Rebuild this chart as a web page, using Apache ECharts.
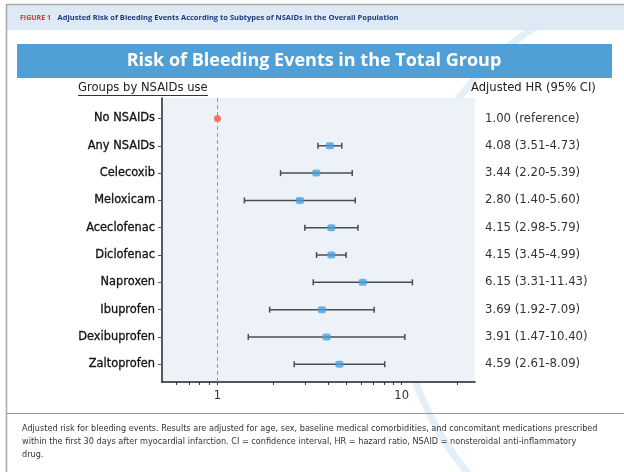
<!DOCTYPE html>
<html><head><meta charset="utf-8">
<script src="https://cdn.jsdelivr.net/npm/echarts@6/dist/echarts.min.js"></script>
<style>html,body{margin:0;padding:0;background:#fff}#c{width:624px;height:472px}</style>
</head><body><div id="c"></div><script>
const groups = ['No NSAIDs','Any NSAIDs','Celecoxib','Meloxicam','Aceclofenac','Diclofenac','Naproxen','Ibuprofen','Dexibuprofen','Zaltoprofen'];
const hr = [1.00, 4.08, 3.44, 2.80, 4.15, 4.15, 6.15, 3.69, 3.91, 4.59];
const ciLow = [null, 3.51, 2.20, 1.40, 2.98, 3.45, 3.31, 1.92, 1.47, 2.61];
const ciHigh = [null, 4.73, 5.39, 5.60, 5.79, 4.99, 11.43, 7.09, 10.40, 8.09];
const hrText = ['1.00 (reference)','4.08 (3.51-4.73)','3.44 (2.20-5.39)','2.80 (1.40-5.60)','4.15 (2.98-5.79)','4.15 (3.45-4.99)','6.15 (3.31-11.43)','3.69 (1.92-7.09)','3.91 (1.47-10.40)','4.59 (2.61-8.09)'];
const xLabelValues = [1, 10];
const xTickValues = [0.6, 0.7, 0.8, 0.9, 1, 2, 3, 4, 5, 6, 7, 8, 9, 10, 20];
const refValue = 1;

const rows = groups.map((g, i) => i);
const FONT = '"DejaVu Sans", sans-serif';
const TFONT = '"Open Sans", "Noto Sans", sans-serif';

const chart = echarts.init(document.getElementById('c'), null, {renderer: 'canvas'});

const ciData = [];
groups.forEach((g, i) => { if (ciLow[i] != null) ciData.push([ciLow[i], ciHigh[i], i]); });
const ptData = groups.map((g, i) => [hr[i], i]);

const yCommon = {
  type: 'value', inverse: true, min: -0.75, max: 9.65,
  splitLine: {show: false}
};

const option = {
  animation: false,
  backgroundColor: '#fff',
  grid: {left: 162, right: 149, top: 98, bottom: 90, show: true, backgroundColor: '#edf2f9', borderWidth: 0},
  xAxis: {
    type: 'log', logBase: 10, min: 0.5, max: 25,
    axisLine: {show: true, onZero: false, lineStyle: {color: '#222', width: 1.5}},
    axisTick: {show: true, customValues: xTickValues, length: 3, inside: false, lineStyle: {color: '#333'}},
    axisLabel: {customValues: xLabelValues, color: '#333', fontSize: 11.5, fontFamily: FONT, margin: 8},
    splitLine: {show: false}, minorTick: {show: false}
  },
  yAxis: [
    Object.assign({}, yCommon, {
      position: 'left',
      axisLine: {show: true, onZero: false, lineStyle: {color: '#222', width: 1.5}},
      axisTick: {show: true, customValues: rows, length: 4, lineStyle: {color: '#555'}},
      axisLabel: {customValues: rows, formatter: v => groups[v], color: '#111', fontSize: 11.4, fontFamily: FONT, margin: 7, textBorderColor: '#111', textBorderWidth: 0.3}
    }),
    Object.assign({}, yCommon, {
      position: 'right',
      axisLine: {show: false, onZero: false}, axisTick: {show: false},
      axisLabel: {customValues: rows, formatter: v => hrText[v], color: '#333', fontSize: 11.7, fontFamily: FONT, margin: 10, align: 'left'}
    })
  ],
  series: [
    {
      type: 'custom', xAxisIndex: 0, yAxisIndex: 0, data: ciData, z: 3,
      renderItem: function (params, api) {
        const a = api.coord([api.value(0), api.value(2)]);
        const b = api.coord([api.value(1), api.value(2)]);
        const st = {stroke: '#4d4d4d', lineWidth: 1.5};
        return {type: 'group', children: [
          {type: 'line', shape: {x1: a[0], y1: a[1], x2: b[0], y2: b[1]}, style: st},
          {type: 'line', shape: {x1: a[0], y1: a[1] - 3, x2: a[0], y2: a[1] + 3}, style: st},
          {type: 'line', shape: {x1: b[0], y1: b[1] - 3, x2: b[0], y2: b[1] + 3}, style: st}
        ]};
      }
    },
    {
      type: 'scatter', xAxisIndex: 0, yAxisIndex: 0, data: ptData, z: 4,
      symbol: (v, p) => p.dataIndex === 0 ? 'circle' : 'roundRect',
      symbolSize: (v, p) => p.dataIndex === 0 ? 7 : [8, 7],
      itemStyle: {color: p => p.dataIndex === 0 ? '#f0573a' : '#4aa0e0'},
      markLine: {
        silent: true, symbol: 'none', label: {show: false},
        lineStyle: {color: '#9a9a9a', type: [4, 3], width: 1},
        data: [{xAxis: refValue}]
      }
    }
  ],
  graphic: [
    {type: 'rect', shape: {x: 7, y: 5, width: 617, height: 25}, style: {fill: '#dde9f5'}, z: -10},
    {type: 'arc', shape: {cx: 700, cy: 280, r: 302, startAngle: Math.PI * 0.62, endAngle: Math.PI * 1.35}, style: {stroke: '#e3f0fa', lineWidth: 7, fill: null}, z: -20},
    {type: 'line', shape: {x1: 6, y1: 4.5, x2: 624, y2: 4.5}, style: {stroke: '#a8a8a8', lineWidth: 1.5}},
    {type: 'line', shape: {x1: 6.5, y1: 4, x2: 6.5, y2: 472}, style: {stroke: '#a8a8a8', lineWidth: 1.5}},
    {type: 'text', x: 20, y: 17.5, style: {
      text: '{r|FIGURE 1}  {b|Adjusted Risk of Bleeding Events According to Subtypes of NSAIDs in the Overall Population}',
      verticalAlign: 'middle', rich: {
        r: {fill: '#e0362c', fontSize: 7, fontWeight: 'bold', fontFamily: TFONT},
        b: {fill: '#1d3a78', fontSize: 7.5, fontWeight: 'bold', fontFamily: TFONT}
      }}},
    {type: 'rect', shape: {x: 17, y: 44, width: 595, height: 34}, style: {fill: '#519fd7'}},
    {type: 'text', x: 314, y: 61, style: {text: 'Risk of Bleeding Events in the Total Group', fill: '#fff', fontSize: 18, fontWeight: 'bold', fontFamily: TFONT, align: 'center', verticalAlign: 'middle'}},
    {type: 'text', x: 78, y: 88, style: {text: 'Groups by NSAIDs use', fill: '#222', fontSize: 11.6, fontFamily: FONT, verticalAlign: 'middle'}},
    {type: 'line', shape: {x1: 78, y1: 95.5, x2: 208, y2: 95.5}, style: {stroke: '#333', lineWidth: 1}},
    {type: 'text', x: 471, y: 88, style: {text: 'Adjusted HR (95% CI)', fill: '#222', fontSize: 11.6, fontFamily: FONT, verticalAlign: 'middle'}},
    {type: 'line', shape: {x1: 7, y1: 413.5, x2: 624, y2: 413.5}, style: {stroke: '#999', lineWidth: 1}},
    {type: 'text', x: 22, y: 422, style: {
      text: 'Adjusted risk for bleeding events. Results are adjusted for age, sex, baseline medical comorbidities, and concomitant medications prescribed\nwithin the first 30 days after myocardial infarction. CI = confidence interval, HR = hazard ratio, NSAID = nonsteroidal anti-inflammatory\ndrug.',
      fill: '#333', fontSize: 8.15, lineHeight: 13, fontFamily: FONT}}
  ]
};
chart.setOption(option);
</script></body></html>
